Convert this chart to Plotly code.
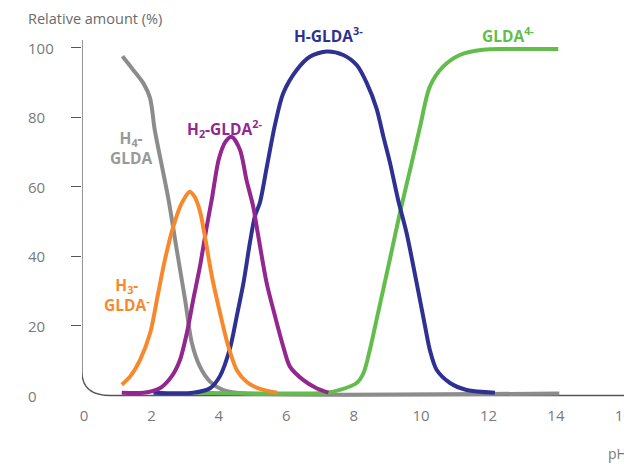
import plotly.graph_objects as go

# ---- data ----
ph_h4 = [1.14, 1.46, 1.76, 1.96, 2.10, 2.30, 2.51, 2.75, 3.00, 3.20, 3.44, 3.74, 4.12, 4.60, 14.10]
amt_h4 = [97.5, 93.6, 89.8, 85.5, 76.3, 66.5, 56.2, 42.0, 27.5, 15.1, 8.3, 4.0, 1.6, 0.7, 0.6]

ph_h3 = [1.12, 1.37, 1.66, 1.96, 2.20, 2.40, 2.65, 2.90, 3.14, 3.29, 3.44, 3.60, 3.80, 4.03, 4.27, 4.54, 4.84, 5.22, 5.73]
amt_h3 = [3.1, 5.5, 10.2, 17.9, 29.4, 39.0, 48.6, 55.3, 58.6, 57.0, 53.0, 45.0, 34.0, 24.0, 14.5, 7.2, 3.8, 1.9, 0.8]

ph_h2 = [1.12, 1.76, 2.25, 2.60, 2.85, 3.05, 3.24, 3.44, 3.64, 3.79, 4.00, 4.20, 4.38, 4.63, 4.82, 5.02, 5.15, 5.42, 5.67, 5.91, 6.11, 6.50, 6.90, 7.25]
amt_h2 = [0.8, 0.8, 2.1, 5.5, 10.3, 17.9, 27.5, 37.1, 48.5, 56.3, 68.0, 73.0, 74.4, 70.6, 62.0, 54.3, 47.0, 32.3, 22.7, 14.1, 8.3, 4.5, 2.1, 0.8]

ph_h1 = [2.06, 3.24, 3.74, 4.03, 4.33, 4.53, 4.73, 4.92, 5.07, 5.22, 5.42, 5.67, 5.91, 6.31, 6.70, 7.20, 7.69, 8.09, 8.39, 8.68, 8.88, 9.08, 9.32, 9.57, 9.87, 10.12, 10.26, 10.46, 10.86, 11.35, 12.19]
amt_h1 = [0.8, 0.8, 2.1, 5.5, 13.5, 22.7, 32.3, 43.8, 51.5, 55.5, 65.5, 78.0, 86.9, 93.6, 97.4, 98.9, 97.9, 95.0, 89.8, 82.5, 74.5, 66.8, 56.2, 46.7, 32.3, 19.8, 13.1, 7.4, 3.6, 1.6, 0.8]

ph_h0 = [3.29, 7.20, 7.59, 8.09, 8.29, 8.48, 8.68, 8.88, 9.08, 9.37, 9.72, 9.97, 10.26, 10.66, 11.15, 11.84, 12.54, 14.07]
amt_h0 = [0.8, 0.8, 1.6, 3.6, 6.4, 13.1, 21.8, 30.6, 39.4, 52.4, 66.8, 77.3, 88.8, 94.6, 97.9, 99.4, 99.6, 99.6]

x_ticks = [0, 2, 4, 6, 8, 10, 12, 14, 16]
y_ticks = [0, 20, 40, 60, 80, 100]

series = [
    ("H4-GLDA", ph_h4, amt_h4, "#8c8c8c"),
    ("GLDA4-", ph_h0, amt_h0, "#62bd4c"),
    ("H-GLDA3-", ph_h1, amt_h1, "#2e3192"),
    ("H2-GLDA2-", ph_h2, amt_h2, "#93278f"),
    ("H3-GLDA-", ph_h3, amt_h3, "#f7892c"),
]

W, H = 624, 463
ml, mr, mt, mb = 82, 0, 40, 63
pw = W - ml - mr
ph = H - mt - mb

def px_to_paper_x(px):
    return (px - ml) / pw

def py_to_paper_y(py):
    return 1 - (py - mt) / ph

# label text, centre x (px), centre y (px), colour
labels = [
    ("<b>H<sub>4</sub>-<br>GLDA</b>", 131, 148, "#999999"),
    ("<b>H<sub>3</sub>-<br>GLDA<sup>-</sup></b>", 127, 295, "#f7892c"),
    ("<b>H<sub>2</sub>-GLDA<sup>2-</sup></b>", 224, 128, "#93278f"),
    ("<b>H-GLDA<sup>3-</sup></b>", 328, 35, "#2e3192"),
    ("<b>GLDA<sup>4-</sup></b>", 508, 35, "#62bd4c"),
]

FONT = "Open Sans"
fig = go.Figure()
for name, xs, ys, col in series:
    fig.add_trace(go.Scatter(x=xs, y=ys, mode="lines", name=name,
                             line=dict(color=col, width=4, shape="spline", smoothing=0.8),
                             hoverinfo="skip", showlegend=False))

annotations = []
for text, x, y, col in labels:
    annotations.append(dict(text=text, x=px_to_paper_x(x), y=py_to_paper_y(y),
                            xref="paper", yref="paper", showarrow=False,
                            xanchor="center", yanchor="middle", align="center",
                            font=dict(family=FONT, size=15.5, color=col)))
for v in y_ticks:
    annotations.append(dict(text=str(v), x=px_to_paper_x(26), y=v, xref="paper", yref="y",
                            showarrow=False, xanchor="left", yanchor="middle",
                            font=dict(family=FONT, size=15, color="#7a7a7a")))
annotations.append(dict(text="Relative amount (%)", x=px_to_paper_x(26), y=py_to_paper_y(19),
                        xref="paper", yref="paper", showarrow=False, xanchor="left",
                        yanchor="middle", font=dict(family=FONT, size=14.5, color="#6a6a6a")))
annotations.append(dict(text="pH", x=px_to_paper_x(606), y=py_to_paper_y(453),
                        xref="paper", yref="paper", showarrow=False, xanchor="left",
                        yanchor="middle", font=dict(family=FONT, size=14, color="#7a7a7a")))

fig.update_layout(
    width=W, height=H, margin=dict(l=ml, r=mr, t=mt, b=mb, autoexpand=False),
    paper_bgcolor="white", plot_bgcolor="white",
    xaxis=dict(range=[-0.059, 16.02], tickvals=x_ticks, ticktext=[str(v) for v in x_ticks],
               showgrid=False, zeroline=False, showline=False, ticks="",
               ticklabeloverflow="allow", automargin=False,
               tickfont=dict(family=FONT, size=15, color="#7a7a7a"), ticklabelstandoff=5),
    yaxis=dict(range=[-1.29, 102.2], tickvals=y_ticks[1:], showticklabels=False,
               ticks="outside", ticklen=10, tickwidth=1.2, tickcolor="#555555",
               showgrid=False, zeroline=False, showline=False, automargin=False),
    annotations=annotations,
    shapes=[dict(type="path", xref="x", yref="y",
                 path="M -0.06,102.2 L -0.06,6.8 Q -0.06,0 0.78,0 L 16.2,0",
                 line=dict(color="#555555", width=1.3), layer="below")],
)

fig.write_html("out.html", config={"displayModeBar": False},
               post_script="document.body.style.margin='0';document.body.style.overflow='hidden';")
